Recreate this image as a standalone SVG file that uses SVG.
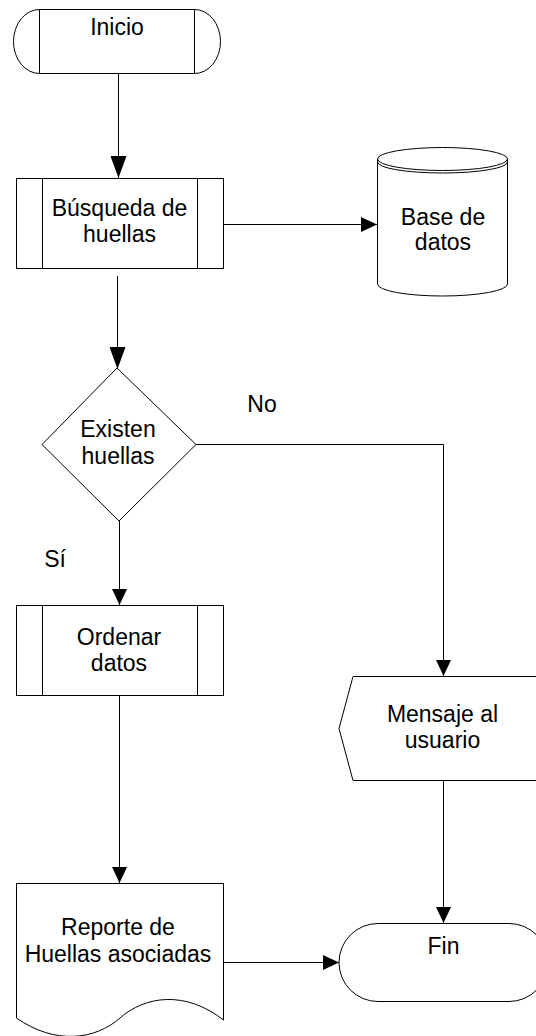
<svg xmlns="http://www.w3.org/2000/svg" width="536" height="1036" viewBox="0 0 536 1036">
  <style>
    .shape { fill: #fff; stroke: #000; stroke-width: 1; }
    .inner { fill: none; stroke: #000; stroke-width: 1; }
    .edge { fill: none; stroke: #000; stroke-width: 1; }
    text { font-family: "Liberation Sans", Arial, sans-serif; font-size: 23px; fill: #000; text-anchor: middle; }
  </style>
  <defs>
    <marker id="arrowLong" viewBox="0 0 22 16" refX="22" refY="8" markerWidth="22" markerHeight="16" markerUnits="userSpaceOnUse" orient="auto">
      <path d="M0,0 L22,8 L0,16 Z" fill="#000"/>
    </marker>
    <marker id="arrowShort" viewBox="0 0 16 15" refX="16" refY="7.5" markerWidth="16" markerHeight="15" markerUnits="userSpaceOnUse" orient="auto">
      <path d="M0,0 L16,7.5 L0,15 Z" fill="#000"/>
    </marker>
  </defs>

  <rect width="536" height="1036" fill="#fff"/>

  <!-- connectors -->
  <g id="connectors">
    <line class="edge" x1="118.5" y1="74" x2="118.5" y2="178" marker-end="url(#arrowLong)"/>
    <line class="edge" x1="223" y1="224.5" x2="377" y2="224.5" marker-end="url(#arrowShort)"/>
    <line class="edge" x1="117.5" y1="276" x2="117.5" y2="369" marker-end="url(#arrowLong)"/>
    <polyline class="edge" points="196,444.5 443.5,444.5 443.5,676" marker-end="url(#arrowShort)"/>
    <line class="edge" x1="119.5" y1="521" x2="119.5" y2="605" marker-end="url(#arrowShort)"/>
    <line class="edge" x1="119.5" y1="695" x2="119.5" y2="883" marker-end="url(#arrowShort)"/>
    <line class="edge" x1="443.5" y1="780" x2="443.5" y2="923" marker-end="url(#arrowShort)"/>
    <line class="edge" x1="223" y1="962.5" x2="339" y2="962.5" marker-end="url(#arrowShort)"/>
    <text x="262" y="412">No</text>
    <text x="55" y="567">Sí</text>
  </g>

  <!-- start terminator -->
  <g id="inicio">
    <path class="shape" d="M39.5,9.5 H194.5 A26,32 0 0 1 194.5,73.5 H39.5 A26,32 0 0 1 39.5,9.5 Z"/>
    <line class="inner" x1="39.5" y1="9.5" x2="39.5" y2="73.5"/>
    <line class="inner" x1="194.5" y1="9.5" x2="194.5" y2="73.5"/>
    <text x="117" y="35">Inicio</text>
  </g>

  <!-- predefined process: search -->
  <g id="busqueda">
    <rect class="shape" x="16.5" y="178.5" width="207" height="90"/>
    <line class="inner" x1="42.5" y1="178.5" x2="42.5" y2="268.5"/>
    <line class="inner" x1="197.5" y1="178.5" x2="197.5" y2="268.5"/>
    <text x="119.5" y="216">Búsqueda de</text>
    <text x="119.5" y="242">huellas</text>
  </g>

  <!-- database -->
  <g id="base-datos">
    <path class="shape" d="M377.5,159 A65,11.5 0 0 1 507.5,159 V284 A65,12 0 0 1 377.5,284 Z"/>
    <path class="inner" d="M377.5,159 A65,11.5 0 0 0 507.5,159"/>
    <path class="inner" d="M377.5,162 A65,11 0 0 0 507.5,162"/>
    <text x="443" y="225">Base de</text>
    <text x="443" y="250">datos</text>
  </g>

  <!-- decision -->
  <g id="existen">
    <polygon class="shape" points="117,368 196,444.5 119,521 42,444.5"/>
    <text x="118" y="437">Existen</text>
    <text x="118" y="464">huellas</text>
  </g>

  <!-- predefined process: sort -->
  <g id="ordenar">
    <rect class="shape" x="16.5" y="605.5" width="207" height="90"/>
    <line class="inner" x1="42.5" y1="605.5" x2="42.5" y2="695.5"/>
    <line class="inner" x1="197.5" y1="605.5" x2="197.5" y2="695.5"/>
    <text x="119" y="645">Ordenar</text>
    <text x="119" y="671">datos</text>
  </g>

  <!-- display -->
  <g id="mensaje">
    <path class="shape" d="M353,676.5 H560 V780.5 H353 L339,728.5 Z"/>
    <text x="442.5" y="722">Mensaje al</text>
    <text x="442.5" y="748">usuario</text>
  </g>

  <!-- document -->
  <g id="reporte">
    <path class="shape" d="M16.5,883.5 H223.5 V1020 C185,990 145,996 120,1018 C95,1040 55,1045 16.5,1018 Z"/>
    <text x="118" y="935">Reporte de</text>
    <text x="118" y="962">Huellas asociadas</text>
  </g>

  <!-- end terminator -->
  <g id="fin">
    <path class="shape" d="M378,923.5 H509 A39,39 0 0 1 509,1001.5 H378 A39,39 0 0 1 378,923.5 Z"/>
    <text x="443.5" y="954">Fin</text>
  </g>
</svg>
